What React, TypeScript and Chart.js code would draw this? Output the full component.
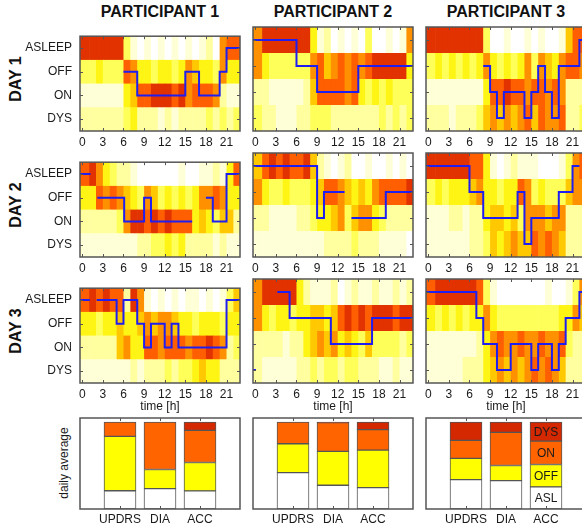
import React, { useEffect, useRef } from "react";
import { Chart, registerables } from "chart.js";

Chart.register(...registerables);

const FONT = "'Liberation Sans', Arial, sans-serif";
Chart.defaults.font.family = FONT;
Chart.defaults.font.size = 12;
Chart.defaults.color = "#1a1a1a";

// ---------- labels ----------
const PARTICIPANTS = ["PARTICIPANT 1", "PARTICIPANT 2", "PARTICIPANT 3"];
const DAYS = ["DAY 1", "DAY 2", "DAY 3"];
const STATES = ["DYS", "ON", "OFF", "ASLEEP"]; // y = 0..3
const HOUR_TICKS = [0, 3, 6, 9, 12, 15, 18, 21];
const METHODS = ["UPDRS", "DIA", "ACC"];
const BAR_STATES = ["ASL", "OFF", "ON", "DYS"];

// ---------- heat maps: rows ASLEEP, OFF, ON, DYS; one digit per hour 0..23 (0 none .. 9 max) ----------
const HEAT_P1_D1 = ["888888310101010101206777", "334333764434434654436444", "111111457788878677762111", "222222342221212222323232"];
const HEAT_P2_D1 = ["688888884120101030010167", "643333336756767678888844", "221111125777767434343333", "322111223332222222323233"];
const HEAT_P3_D1 = ["888888883001001010015777", "343434346434346365467766", "111111114778776776762222", "222122235656567576672232"];
const HEAT_P1_D2 = ["786432210000001001121477", "447676543653434346676444", "222223688787877745435522", "111111112233434222212111"];
const HEAT_P2_D2 = ["578787785210120010010101", "643343334577654546777788", "221111223445635664322222", "111111111122223222111101"];
const HEAT_P3_D2 = ["888888774101211100013677", "343444564434476343335666", "111221224554536665662222", "111111223545655767652221"];
const HEAT_P1_D3 = ["787877286101010110101354", "443445445656654434443444", "222225644776777677876233", "111111121222323345442222"];
const HEAT_P2_D3 = ["688888421112012112112122", "643443445545787878887888", "222212245656454353333232", "211111223233233222112112"];
const HEAT_P3_D3 = ["788888873100000001001365", "434343446433333333344655", "111111124676676676673222", "111112224565656767652222"];

// ---------- annotated state (step line): [hour, state], null = gap ----------
type Pt = [number, number | null];
const STEP_P1_D1: Pt[] = [[6, 2], [8, 1], [15, 2], [17, 1], [20, 2], [21, 3], [23, 3]];
const STEP_P2_D1: Pt[] = [[-0.33, 3], [6, 2], [9, 1], [15, 2], [23, 2]];
const STEP_P3_D1: Pt[] = [[8, 2], [9, 1], [10, 0], [11, 1], [14, 0], [15, 1], [16, 2], [17, 1], [18, 0], [19, 2], [22, 3], [23, 3]];
const STEP_P1_D2: Pt[] = [[-0.33, 3], [1.2, 3], [1.6, null], [2.2, 2], [6.1, 1], [9, 2], [10, 1], [16, 1], [17, null], [18, 2], [19, 1], [21, 3], [23, 3]];
const STEP_P2_D2: Pt[] = [[-0.33, 3], [9, 1], [10, 2], [13, 2], [13.5, null], [14, 1], [19, 2], [23, 2]];
const STEP_P3_D2: Pt[] = [[-0.33, 3], [6, 2], [8, 1], [13, 2], [14, 0], [15, 1], [19, 2], [21, 3], [22, 3]];
const STEP_P1_D3: Pt[] = [[-0.33, 3], [1.1, 3], [1.6, null], [2.1, 3], [5, 2], [6, 3], [8, 2], [9, 1], [10, 2], [12, 1], [13, 2], [14, 1], [21, 3], [23, 3]];
const STEP_P2_D3: Pt[] = [[-0.33, 0], [0.1, 0], [0.5, null], [3.2, 3], [5, 2], [11, 1], [17, 2], [23, 2]];
const STEP_P3_D3: Pt[] = [[-0.33, 3], [7, 2], [8, 1], [10, 0], [12, 1], [15, 0], [16, 1], [18, 0], [19, 1], [20, 2], [22, 3], [23, 3]];

// ---------- daily averages (fractions) per method UPDRS, DIA, ACC ----------
const ASL_P1 = [0.21, 0.235, 0.208];
const OFF_P1 = [0.625, 0.219, 0.327];
const ON_P1 = [0.165, 0.546, 0.369];
const DYS_P1 = [0, 0, 0.096];
const ASL_P2 = [0.419, 0.273, 0.246];
const OFF_P2 = [0.331, 0.389, 0.431];
const ON_P2 = [0.25, 0.33, 0.235];
const DYS_P2 = [0, 0.008, 0.088];
const ASL_P3 = [0.338, 0.327, 0.254];
const OFF_P3 = [0.243, 0.173, 0.258];
const ON_P3 = [0.207, 0.381, 0.269];
const DYS_P3 = [0.212, 0.119, 0.219];

const HEAT = [
  [HEAT_P1_D1, HEAT_P2_D1, HEAT_P3_D1],
  [HEAT_P1_D2, HEAT_P2_D2, HEAT_P3_D2],
  [HEAT_P1_D3, HEAT_P2_D3, HEAT_P3_D3],
];
const STEPS = [
  [STEP_P1_D1, STEP_P2_D1, STEP_P3_D1],
  [STEP_P1_D2, STEP_P2_D2, STEP_P3_D2],
  [STEP_P1_D3, STEP_P2_D3, STEP_P3_D3],
];
const BARS = [
  [ASL_P1, OFF_P1, ON_P1, DYS_P1],
  [ASL_P2, OFF_P2, ON_P2, DYS_P2],
  [ASL_P3, OFF_P3, ON_P3, DYS_P3],
];

// ---------- styling / layout ----------
const PALETTE = [
  "rgb(255,255,255)", "rgb(255,255,215)", "rgb(255,255,160)", "rgb(255,255,90)", "rgb(255,245,20)",
  "rgb(255,200,0)", "rgb(255,145,0)", "rgb(255,95,0)", "rgb(225,50,0)", "rgb(200,30,0)",
];
const BAR_COLORS = ["#ffffff", "#ffff00", "#ff6400", "#d42800"];
const LINE_COLOR = "#1e1ef0";
const FRAME = "#555555";
const TEXT = "#1a1a1a";
const X_MIN = -0.33;
const X_MAX = 22.96;
const PLOT_LEFT = [80, 253, 426];
const PLOT_TOP = [27, 153, 279];
const PLOT_W = 160;
const PLOT_H = 104;
const BAR_TOP = 418;
const BAR_H = 91;

function framePlugin(yTicksToo: boolean) {
  return {
    id: "frame",
    afterDraw(chart: any) {
      const { ctx, chartArea: a, scales } = chart;
      const x = scales.x;
      const y = scales.y;
      ctx.save();
      ctx.strokeStyle = FRAME;
      ctx.lineWidth = 1;
      ctx.beginPath();
      x.ticks.forEach((t: any) => {
        const px = Math.round(x.getPixelForValue(t.value)) + 0.5;
        ctx.moveTo(px, a.top);
        ctx.lineTo(px, a.top + 3);
        ctx.moveTo(px, a.bottom);
        ctx.lineTo(px, a.bottom - 3);
      });
      if (yTicksToo) {
        y.ticks.forEach((t: any) => {
          const py = Math.round(y.getPixelForValue(t.value)) + 0.5;
          ctx.moveTo(a.left, py);
          ctx.lineTo(a.left + 3, py);
          ctx.moveTo(a.right, py);
          ctx.lineTo(a.right - 3, py);
        });
      }
      ctx.stroke();
      ctx.lineWidth = 1.5;
      ctx.strokeRect(a.left, a.top, a.right - a.left, a.bottom - a.top);
      ctx.restore();
    },
  };
}

function heatPlugin(rows: string[]) {
  return {
    id: "heat",
    beforeDatasetsDraw(chart: any) {
      const { ctx, chartArea: a, scales } = chart;
      const x = scales.x;
      const y = scales.y;
      ctx.save();
      ctx.beginPath();
      ctx.rect(a.left, a.top, a.right - a.left, a.bottom - a.top);
      ctx.clip();
      rows.forEach((row, r) => {
        const state = STATES.length - 1 - r;
        const y0 = y.getPixelForValue(state + 0.5);
        const y1 = y.getPixelForValue(state - 0.5);
        for (let h = 0; h < row.length; h++) {
          const x0 = x.getPixelForValue(h === 0 ? X_MIN : h);
          const x1 = x.getPixelForValue(h + 1);
          ctx.fillStyle = PALETTE[Number(row[h])];
          ctx.fillRect(x0, y0, x1 - x0 + 0.6, y1 - y0 + 0.6);
        }
      });
      ctx.restore();
    },
  };
}

const barLabelPlugin = {
  id: "barLabels",
  afterDatasetsDraw(chart: any) {
    const { ctx } = chart;
    ctx.save();
    ctx.font = `12px ${FONT}`;
    ctx.fillStyle = TEXT;
    ctx.textAlign = "center";
    ctx.textBaseline = "middle";
    chart.data.datasets.forEach((_: any, di: number) => {
      const el = chart.getDatasetMeta(di).data[2];
      if (!el) return;
      const { x, y, base } = el.getProps(["x", "y", "base"], true);
      ctx.fillText(BAR_STATES[di], x, (y + base) / 2 + 1);
    });
    ctx.restore();
  },
};

function ChartBox(props: { left: number; top: number; width: number; height: number; make: () => any }) {
  const ref = useRef<HTMLCanvasElement | null>(null);
  useEffect(() => {
    const chart = new Chart(ref.current as HTMLCanvasElement, props.make());
    return () => chart.destroy();
  }, []);
  return (
    <canvas
      ref={ref}
      width={props.width}
      height={props.height}
      style={{ position: "absolute", left: props.left, top: props.top, width: props.width, height: props.height }}
    />
  );
}

function heatConfig(r: number, c: number, L: number, T: number, R: number, B: number) {
  return () => ({
    type: "line",
    data: {
      datasets: [
        {
          data: STEPS[r][c].map(([x, y]) => ({ x, y })),
          stepped: true,
          borderColor: LINE_COLOR,
          borderWidth: 2,
          pointRadius: 0,
          spanGaps: false,
          fill: false,
        },
      ],
    },
    options: {
      animation: false,
      responsive: false,
      events: [],
      layout: { padding: { top: T, right: R, left: 0, bottom: 0 } },
      plugins: { legend: { display: false }, tooltip: { enabled: false } },
      scales: {
        x: {
          type: "linear",
          min: X_MIN,
          max: X_MAX,
          offset: false,
          grid: { display: false, drawTicks: false },
          border: { display: false },
          afterBuildTicks: (s: any) => {
            s.ticks = HOUR_TICKS.map((v) => ({ value: v }));
          },
          afterFit: (s: any) => {
            s.height = B;
          },
          ticks: { autoSkip: false, maxRotation: 0, padding: 4, color: TEXT, font: { size: 12 }, callback: (v: any) => String(v) },
          title: { display: r === 2, text: "time [h]", color: TEXT, font: { size: 12 }, padding: { top: 0, bottom: 3 } },
        },
        y: {
          type: "linear",
          min: -0.5,
          max: 3.5,
          grid: { display: false, drawTicks: false },
          border: { display: false },
          afterBuildTicks: (s: any) => {
            s.ticks = STATES.map((_, i) => ({ value: i }));
          },
          afterFit: (s: any) => {
            s.width = L;
          },
          ticks: { display: c === 0, padding: 8, color: TEXT, font: { size: 12 }, callback: (v: any) => STATES[v] },
        },
      },
    },
    plugins: [heatPlugin(HEAT[r][c]), framePlugin(true)],
  });
}

function barConfig(c: number, L: number, T: number, R: number, B: number) {
  return () => ({
    type: "bar",
    data: {
      datasets: BAR_STATES.map((name, si) => ({
        label: name,
        data: METHODS.map((_, i) => ({ x: i, y: BARS[c][si][i] })),
        backgroundColor: BAR_COLORS[si],
        borderColor: "#555555",
        borderWidth: 1,
        borderSkipped: false,
        barThickness: 32,
      })),
    },
    options: {
      animation: false,
      responsive: false,
      events: [],
      layout: { padding: { top: T, right: R, left: 0, bottom: 0 } },
      plugins: { legend: { display: false }, tooltip: { enabled: false } },
      scales: {
        x: {
          type: "linear",
          min: -1,
          max: 3,
          offset: false,
          stacked: true,
          grid: { display: false, drawTicks: false, offset: false },
          border: { display: false },
          afterBuildTicks: (s: any) => {
            s.ticks = METHODS.map((_, i) => ({ value: i }));
          },
          afterFit: (s: any) => {
            s.height = B;
          },
          ticks: { autoSkip: false, maxRotation: 0, padding: 3, color: TEXT, font: { size: 12 }, callback: (v: any) => METHODS[v] },
        },
        y: {
          type: "linear",
          min: 0,
          max: 1.046,
          stacked: true,
          grid: { display: false, drawTicks: false },
          border: { display: false },
          ticks: { display: false },
          afterFit: (s: any) => {
            s.width = L;
          },
        },
      },
    },
    plugins: c === 2 ? [framePlugin(false), barLabelPlugin] : [framePlugin(false)],
  });
}

export default function App() {
  const T = 6;
  const R = 6;
  const heatBoxes: any[] = [];
  for (let r = 0; r < 3; r++) {
    for (let c = 0; c < 3; c++) {
      const L = c === 0 ? 80 : 6;
      const B = r === 2 ? 34 : 22;
      heatBoxes.push(
        <ChartBox
          key={`h${r}${c}`}
          left={PLOT_LEFT[c] - L}
          top={PLOT_TOP[r] - T}
          width={L + PLOT_W + R}
          height={T + PLOT_H + B}
          make={heatConfig(r, c, L, T, R, B)}
        />
      );
    }
  }
  const barBoxes = [0, 1, 2].map((c) => (
    <ChartBox
      key={`b${c}`}
      left={PLOT_LEFT[c] - 6}
      top={BAR_TOP - T}
      width={6 + PLOT_W + R}
      height={T + BAR_H + 20}
      make={barConfig(c, 6, T, R, 20)}
    />
  ));
  const bold: React.CSSProperties = { fontFamily: FONT, fontWeight: "bold", fontSize: 16, color: "#111", position: "absolute", whiteSpace: "nowrap" };
  return (
    <div style={{ position: "absolute", left: 0, top: 0, width: 582, height: 527, overflow: "hidden", background: "#fff" }}>
      {PARTICIPANTS.map((p, c) => (
        <div key={p} style={{ ...bold, left: PLOT_LEFT[c], top: 3, width: PLOT_W, height: 18, lineHeight: "18px", textAlign: "center" }}>
          {p}
        </div>
      ))}
      {DAYS.map((d, r) => (
        <div
          key={d}
          style={{
            ...bold,
            left: 16 - 50,
            top: PLOT_TOP[r] + PLOT_H / 2 - 10,
            width: 100,
            height: 20,
            lineHeight: "20px",
            textAlign: "center",
            transform: "rotate(-90deg)",
          }}
        >
          {d}
        </div>
      ))}
      <div
        style={{
          position: "absolute",
          fontFamily: FONT,
          fontSize: 12,
          color: TEXT,
          left: 64 - 50,
          top: 463 - 8,
          width: 100,
          height: 16,
          lineHeight: "16px",
          textAlign: "center",
          whiteSpace: "nowrap",
          transform: "rotate(-90deg)",
        }}
      >
        daily average
      </div>
      {heatBoxes}
      {barBoxes}
    </div>
  );
}
